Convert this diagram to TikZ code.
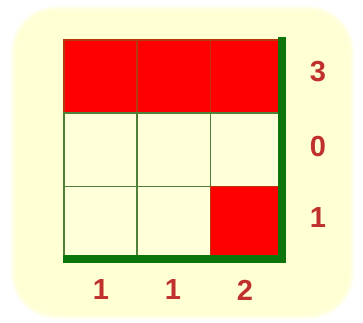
\documentclass[tikz,border=0pt]{standalone}
\usepackage{fontspec}
\setmainfont{Liberation Sans}
\definecolor{bgcream}{HTML}{FFFFD4}
\definecolor{cellcream}{HTML}{FFFFDA}
\definecolor{gridgreen}{HTML}{4F8236}
\definecolor{thickgreen}{HTML}{0C760C}
\definecolor{cellred}{HTML}{FF0000}
\definecolor{redline}{HTML}{B8380E}
\definecolor{labelred}{HTML}{C0302C}
\begin{document}
\begin{tikzpicture}[x=1pt,y=-1pt,
  cell/.style={draw=gridgreen,line width=1.6pt,fill=cellcream,minimum width=73.3pt,minimum height=73.3pt,inner sep=0pt,anchor=north west},
  redcell/.style={cell,fill=cellred,draw=redline},
  num/.style={text=labelred,font=\bfseries\fontsize{29}{31}\selectfont,inner sep=0pt},
  thick/.style={draw=thickgreen,line width=8pt,line join=miter}]
\useasboundingbox (0,0) rectangle (363,322);
\fill[white] (0,0) rectangle (363,322);
\fill[bgcream,opacity=0.35,rounded corners=46pt] (11,6) rectangle (354,319);
\fill[bgcream,opacity=0.6,rounded corners=44pt] (13,8) rectangle (352,317);
\fill[bgcream,rounded corners=40pt] (16,11) rectangle (349,314);
% cells
\node[redcell] (c11) at (63,39) {};
\node[redcell] (c12) at (136.3,39) {};
\node[redcell] (c13) at (209.6,39) {};
\node[cell] (c21) at (63,112.3) {};
\node[cell] (c22) at (136.3,112.3) {};
\node[cell] (c23) at (209.6,112.3) {};
\node[cell] (c31) at (63,185.6) {};
\node[cell] (c32) at (136.3,185.6) {};
\node[redcell] (c33) at (209.6,185.6) {};
% thick axes
\coordinate (rtop) at (282,37);
\coordinate (corner) at (282,259);
\coordinate (bleft) at (63,259);
\draw[thick] (rtop) -- (corner) -- (bleft);
% labels
\node[num] (r1) at (318,72) {3};
\node[num] (r2) at (318,147) {0};
\node[num] (r3) at (318,218) {1};
\node[num] (b1) at (101,290) {1};
\node[num] (b2) at (173,290) {1};
\node[num] (b3) at (245,290) {2};
\end{tikzpicture}
\end{document}
